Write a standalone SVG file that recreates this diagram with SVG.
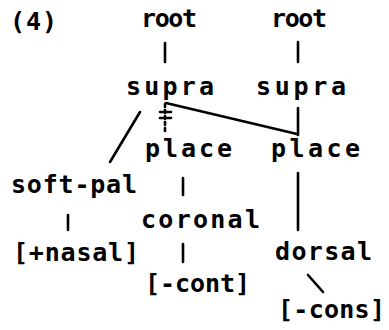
<svg xmlns="http://www.w3.org/2000/svg" width="389" height="330" viewBox="0 0 389 330">
<style>
text{font-family:"DejaVu Sans Mono","Liberation Mono",monospace;font-size:25px;font-weight:bold;fill:#000}
.c line{stroke:#000;stroke-width:2.6;stroke-linecap:round;fill:none}
</style>
<rect width="389" height="330" fill="#fff"/>
<g id="label"><text x="10" y="30" textLength="47" lengthAdjust="spacing">(4)</text></g>
<g id="root1"><text x="141" y="27" textLength="56" lengthAdjust="spacing">root</text></g>
<g id="root2"><text x="271" y="27" textLength="56" lengthAdjust="spacing">root</text></g>
<g id="supra1"><text x="126" y="95" textLength="88" lengthAdjust="spacing">supra</text></g>
<g id="supra2"><text x="256" y="95" textLength="90" lengthAdjust="spacing">supra</text></g>
<g id="place1"><text x="145" y="157" textLength="87" lengthAdjust="spacing">place</text></g>
<g id="place2"><text x="271" y="157" textLength="89" lengthAdjust="spacing">place</text></g>
<g id="softpal"><text x="11" y="193" textLength="126" lengthAdjust="spacing">soft-pal</text></g>
<g id="coronal"><text x="141" y="228" textLength="119" lengthAdjust="spacing">coronal</text></g>
<g id="nasal"><text x="13" y="261" textLength="126" lengthAdjust="spacing">[+nasal]</text></g>
<g id="dorsal"><text x="275" y="260" textLength="97" lengthAdjust="spacing">dorsal</text></g>
<g id="cont"><text x="145" y="292" textLength="105" lengthAdjust="spacing">[-cont]</text></g>
<g id="cons"><text x="278" y="318" textLength="107" lengthAdjust="spacing">[-cons]</text></g>
<g id="connectors" class="c">
<line x1="165" y1="43" x2="165" y2="62"/>
<line x1="298" y1="42" x2="298" y2="62"/>
<line x1="110" y1="162" x2="140" y2="112" stroke-width="3.2"/>
<line x1="165" y1="104" x2="165" y2="134" stroke-dasharray="3 3" stroke-linecap="butt"/>
<line x1="160" y1="112" x2="171" y2="112"/>
<line x1="160" y1="118" x2="171" y2="118"/>
<line x1="166" y1="103" x2="297" y2="134"/>
<line x1="298" y1="108" x2="298" y2="135"/>
<line x1="183" y1="178" x2="183" y2="195"/>
<line x1="298" y1="173" x2="298" y2="230"/>
<line x1="68" y1="215" x2="68" y2="230"/>
<line x1="183" y1="244" x2="183" y2="262"/>
<line x1="308" y1="275" x2="323" y2="292"/>
</g>
</svg>
